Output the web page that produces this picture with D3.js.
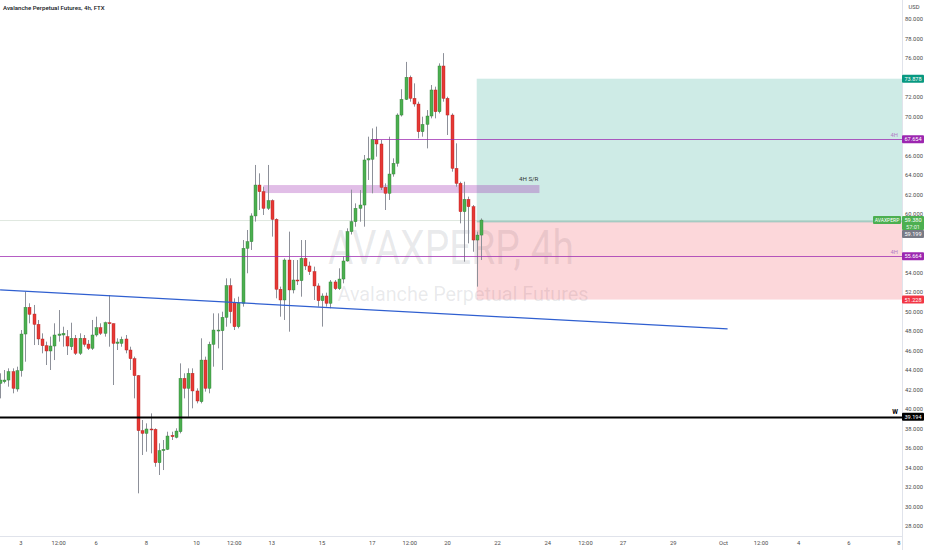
<!DOCTYPE html>
<html><head><meta charset="utf-8">
<script src="https://cdn.jsdelivr.net/npm/d3@7"></script>
<style>html,body{margin:0;padding:0;background:#fff;} svg{display:block}</style>
</head><body><svg id="c" width="932" height="550"></svg>
<script>
// ---------------- DATA ----------------
const firstCandle = Date.UTC(2021, 8, 2, 4); // 4h candles from here
const candleHours = 4;
const opens  = [42.63,42.80,42.97,43.83,42.05,43.93,47.69,50.43,49.74,48.68,47.18,46.49,45.95,46.46,47.55,47.59,47.42,46.39,47.25,45.71,47.25,46.66,46.22,47.59,48.34,47.76,48.85,48.75,46.73,46.73,47.18,46.05,45.16,43.42,37.78,37.50,37.95,37.91,34.49,35.73,35.86,37.30,37.09,37.67,43.14,42.12,43.66,41.85,40.75,45.02,42.12,46.63,48.03,48.03,49.40,52.65,50.90,48.44,50.84,56.48,57.16,59.80,62.97,62.29,60.58,61.37,59.45,52.28,51.18,55.28,52.21,53.23,53.16,55.45,54.67,54.09,52.62,51.11,51.59,50.84,53.03,52.34,53.33,55.18,58.19,59.21,60.58,60.92,65.54,65.61,67.66,67.18,62.73,62.12,64.10,65.20,70.15,71.76,74.02,71.86,71.28,68.44,69.19,70.05,72.72,70.49,75.18,71.86,70.15,64.68,63.14,60.24,61.50,60.75,57.33,57.84];
const highs  = [43.66,44.00,44.17,44.17,44.34,48.10,52.03,50.84,50.67,49.13,47.76,46.91,47.42,48.79,50.15,48.44,48.10,48.85,47.59,47.76,47.59,47.08,49.13,49.47,48.79,48.96,51.69,48.79,47.25,47.42,47.59,46.39,45.37,43.49,38.87,38.53,39.55,38.02,36.48,36.82,37.67,37.67,38.02,44.68,43.66,44.17,44.17,42.12,47.25,45.37,46.90,49.81,49.81,49.98,53.40,53.40,51.35,51.52,57.33,58.36,60.07,65.03,64.17,62.80,65.03,61.50,59.56,52.55,55.45,58.19,55.28,55.28,57.33,57.33,55.11,54.60,52.89,51.86,51.93,53.23,53.23,54.43,55.63,58.53,62.50,61.09,62.46,66.05,67.93,68.78,68.96,67.59,63.14,67.93,65.71,70.32,72.80,75.60,74.20,73.40,71.52,69.98,70.66,73.23,73.06,75.45,76.50,72.03,70.32,67.25,63.31,63.31,61.78,60.92,58.19,59.55];
const lows   = [41.09,42.63,42.29,41.61,41.78,43.32,44.85,48.79,46.56,46.56,45.71,44.51,44.00,45.02,46.91,46.39,45.54,46.05,45.54,45.54,46.39,46.05,46.05,47.42,47.59,47.42,46.39,42.46,46.05,46.39,45.71,44.00,41.09,31.35,35.28,35.62,35.45,34.08,33.23,33.74,35.79,36.82,36.99,37.50,41.09,39.21,40.07,40.58,40.58,41.78,41.61,44.34,46.22,44.00,48.44,48.79,48.10,48.27,50.50,53.92,56.31,59.22,60.41,59.90,60.41,57.68,51.35,49.47,49.13,47.93,51.86,52.72,51.52,54.26,53.75,51.18,50.50,48.45,50.50,50.33,52.21,52.21,52.89,55.11,57.90,58.70,59.21,58.70,63.49,62.12,65.88,62.46,60.41,61.44,63.83,64.86,70.00,71.69,71.52,71.01,67.76,67.93,66.73,69.81,69.81,70.32,71.52,68.10,64.34,62.80,59.04,55.11,56.99,56.13,52.55,55.28];
const closes = [42.97,42.97,43.83,42.12,43.93,47.69,50.43,49.71,48.68,47.18,46.49,45.95,46.46,47.59,47.69,47.76,46.46,47.25,45.71,47.25,46.63,46.22,47.59,48.34,47.76,48.85,48.79,46.73,46.87,47.14,46.05,45.16,43.42,37.78,37.50,37.95,37.88,34.49,35.73,35.86,37.23,37.16,37.74,43.14,42.12,43.66,41.85,40.82,45.02,42.12,46.63,48.10,48.10,49.40,52.65,49.98,48.44,50.84,56.48,57.16,59.80,62.97,62.29,60.58,61.37,59.45,52.28,51.18,55.28,52.21,53.23,53.16,55.45,54.67,54.09,52.62,51.11,51.59,50.84,53.03,52.34,53.33,55.18,58.19,59.21,60.58,60.92,65.54,65.67,67.66,67.18,62.73,62.12,64.10,65.20,70.15,71.76,74.02,71.86,71.28,68.44,69.19,70.05,72.72,70.49,75.18,71.86,70.15,64.68,63.14,60.24,61.50,60.75,57.33,57.84,59.38];

const priceTicks = [28,30,32,34,36,38,40,42,44,46,48,50,52,54,56,58,60,62,64,66,68,70,72,74,76,78,80];
const timeTicks = [
  [Date.UTC(2021,8,3),"3"],[Date.UTC(2021,8,4,12),"12:00"],[Date.UTC(2021,8,6),"6"],[Date.UTC(2021,8,8),"8"],
  [Date.UTC(2021,8,10),"10"],[Date.UTC(2021,8,11,12),"12:00"],[Date.UTC(2021,8,13),"13"],[Date.UTC(2021,8,15),"15"],
  [Date.UTC(2021,8,17),"17"],[Date.UTC(2021,8,18,12),"12:00"],[Date.UTC(2021,8,20),"20"],[Date.UTC(2021,8,22),"22"],
  [Date.UTC(2021,8,24),"24"],[Date.UTC(2021,8,25,12),"12:00"],[Date.UTC(2021,8,27),"27"],[Date.UTC(2021,8,29),"29"],
  [Date.UTC(2021,9,1),"Oct"],[Date.UTC(2021,9,2,12),"12:00"],[Date.UTC(2021,9,4),"4"],[Date.UTC(2021,9,6),"6"],[Date.UTC(2021,9,8),"8"]
];

// horizontal levels
const levelPrices = [67.654, 55.664, 39.194];
const levelTags   = ["4H", "4H", "W"];
const levelStarts = [Date.UTC(2021,8,17), Date.UTC(2021,8,1), Date.UTC(2021,8,1)];

// 4H S/R zone
const zonePrices = [62.15, 62.97];
const zoneTimes  = [Date.UTC(2021,8,12,16), Date.UTC(2021,8,23,16)];
const zoneText = "4H S/R";

// trend line
const trendTimes  = [Date.UTC(2021,8,2,4), Date.UTC(2021,9,1,4)];
const trendPrices = [52.21, 48.21];

// long position
const posStart = Date.UTC(2021,8,21,4);
const posEnd   = Date.UTC(2021,9,9);
const posEntry = 59.199, posTarget = 73.878, posStop = 51.228;
const lastPrice = 59.380, countdown = "57:01";
const symbol = "AVAXPERP";
const title = "Avalanche Perpetual Futures, 4h, FTX";
const wm1 = "AVAXPERP, 4h", wm2 = "Avalanche Perpetual Futures";

// ---------------- DRAW ----------------
const svg = d3.select('#c');
const W = 932, H = 550, plotR = 902, plotB = 536;
const FONT = "Roboto, 'Noto Sans', sans-serif";
const x = d3.scaleUtc().domain([new Date(Date.UTC(2021,8,3)), new Date(Date.UTC(2021,9,8))]).range([21, 899]);
const y = d3.scaleLinear().domain([28, 80]).range([526, 19]);

svg.append('rect').attr('width', W).attr('height', H).attr('fill', '#fff');
svg.append('defs').append('clipPath').attr('id','plot').append('rect')
  .attr('x',0).attr('y',0).attr('width',plotR).attr('height',plotB);
const g = svg.append('g').attr('clip-path','url(#plot)');

// watermark
const cx = plotR/2;
g.append('text').attr('x', cx).attr('y', 264).attr('text-anchor','middle')
  .attr('font-family', FONT).attr('font-size', 48).attr('fill','rgba(120,123,134,0.16)')
  .attr('textLength', 246).attr('lengthAdjust','spacingAndGlyphs').text(wm1);
g.append('text').attr('x', cx+12).attr('y', 301).attr('text-anchor','middle')
  .attr('font-family', FONT).attr('font-size', 20).attr('fill','rgba(120,123,134,0.16)')
  .attr('textLength', 251).attr('lengthAdjust','spacingAndGlyphs').text(wm2);

// current price faint line
g.append('line').attr('x1',0).attr('x2',plotR).attr('y1',y(lastPrice)+0.5).attr('y2',y(lastPrice)+0.5)
  .attr('stroke','#dfe8df').attr('stroke-width',1);

// position boxes
const px0 = x(new Date(posStart)), px1 = x(new Date(posEnd));
g.append('rect').attr('x',px0).attr('width',px1-px0).attr('y',y(posTarget)).attr('height',y(posEntry)-y(posTarget))
  .attr('fill','rgba(8,153,129,0.2)');
g.append('rect').attr('x',px0).attr('width',px1-px0).attr('y',y(posEntry)).attr('height',y(posStop)-y(posEntry))
  .attr('fill','rgba(242,54,69,0.2)');
g.append('line').attr('x1',px0).attr('x2',px1).attr('y1',y(posEntry)).attr('y2',y(posEntry))
  .attr('stroke','#8fbfb5').attr('stroke-width',1);

// S/R zone
const zx0 = x(new Date(zoneTimes[0])), zx1 = x(new Date(zoneTimes[1]));
g.append('rect').attr('x',zx0).attr('width',zx1-zx0).attr('y',y(zonePrices[1])).attr('height',y(zonePrices[0])-y(zonePrices[1]))
  .attr('fill','rgba(156,39,176,0.3)');
g.append('text').attr('x',zx1-1).attr('y',y(zonePrices[1])-4).attr('text-anchor','end')
  .attr('font-family',FONT).attr('font-size',6.2).attr('fill','#333').text(zoneText);

// candles
const idx = d3.range(opens.length);
const tOf = i => new Date(firstCandle + i*candleHours*3600e3);
const cg = g.append('g');
cg.selectAll('line.wick').data(idx).join('line').attr('class','wick')
  .attr('x1', i => Math.round(x(tOf(i)))+0.5).attr('x2', i => Math.round(x(tOf(i)))+0.5)
  .attr('y1', i => y(highs[i])).attr('y2', i => y(lows[i]))
  .attr('stroke','#8d9099').attr('stroke-width',1);
cg.selectAll('rect.body').data(idx).join('rect').attr('class','body')
  .attr('x', i => Math.round(x(tOf(i)))-1)
  .attr('width', 3)
  .attr('y', i => y(Math.max(opens[i],closes[i])))
  .attr('height', i => Math.max(1, Math.abs(y(opens[i])-y(closes[i]))))
  .attr('fill', i => closes[i] >= opens[i] ? '#4caf50' : '#e53935')
  .attr('stroke', i => closes[i] >= opens[i] ? '#2e7d32' : '#b71c1c')
  .attr('stroke-width', 0.4);

// levels
levelPrices.forEach((p, k) => {
  const isW = levelTags[k] === 'W';
  const yy = Math.round(y(p)) + 0.5;
  g.append('line').attr('x1', x(new Date(levelStarts[k]))).attr('x2', plotR).attr('y1', yy).attr('y2', yy)
    .attr('stroke', isW ? '#000' : 'rgba(156,39,176,0.75)').attr('stroke-width', isW ? 2 : 1);
  g.append('text').attr('x', 898).attr('y', yy - (isW ? 4 : 3)).attr('text-anchor','end')
    .attr('font-family', FONT).attr('font-size', isW ? 6.5 : 5.8).attr('font-weight', isW ? 700 : 400)
    .attr('fill', isW ? '#000' : '#b07cc6').text(levelTags[k]);
});

// trend line
g.append('line').attr('x1', x(new Date(trendTimes[0]))).attr('y1', y(trendPrices[0]))
  .attr('x2', x(new Date(trendTimes[1]))).attr('y2', y(trendPrices[1]))
  .attr('stroke','#2f5fd0').attr('stroke-width',1.3);

// axes separators
svg.append('line').attr('x1',plotR+0.5).attr('x2',plotR+0.5).attr('y1',0).attr('y2',H).attr('stroke','#e0e3eb');
svg.append('line').attr('x1',0).attr('x2',plotR).attr('y1',plotB+0.5).attr('y2',plotB+0.5).attr('stroke','#e0e3eb');

// axis tag positions (to hide price labels hidden behind tags)
const ly = y(lastPrice);
const tagYs = [y(posTarget), y(levelPrices[0]), ly, ly+6, ly+14, y(levelPrices[1]), y(posStop), y(levelPrices[2])];

// price axis labels
const fmt = d3.format('.3f');
svg.append('g').selectAll('text').data(priceTicks.filter(d => tagYs.every(t => Math.abs(y(d)-t) > 4.5))).join('text')
  .attr('x', 914).attr('y', d => y(d)+2).attr('text-anchor','middle')
  .attr('font-family',FONT).attr('font-size',5.8).attr('fill','#4a4a4a').text(d => fmt(d));
svg.append('text').attr('x',914).attr('y',9).attr('text-anchor','middle')
  .attr('font-family',FONT).attr('font-size',5.8).attr('fill','#4a4a4a').text('USD');

// time axis labels
svg.append('g').selectAll('text').data(timeTicks).join('text')
  .attr('x', d => x(new Date(d[0]))).attr('y', 545).attr('text-anchor','middle')
  .attr('font-family',FONT).attr('font-size',5.8).attr('fill','#4a4a4a').text(d => d[1]);

// title
svg.append('text').attr('x',3).attr('y',10).attr('font-family',FONT).attr('font-size',6.1).attr('font-weight',500)
  .attr('fill','#131722').text(title);

// axis price tags
function tag(yc, txt, color, h) {
  h = h || 8;
  svg.append('rect').attr('x',902).attr('y',yc-h/2).attr('width',22).attr('height',h).attr('fill',color).attr('rx',1);
  svg.append('text').attr('x',913).attr('y',yc+2).attr('text-anchor','middle')
    .attr('font-family',FONT).attr('font-size',5.6).attr('fill','#fff').text(txt);
}
tag(y(posTarget), fmt(posTarget), '#089981');
tag(y(levelPrices[0]), fmt(levelPrices[0]), '#9c27b0');
// last price + countdown
svg.append('rect').attr('x',902).attr('y',ly-4).attr('width',22).attr('height',14).attr('fill','#4caf50').attr('rx',1);
svg.append('text').attr('x',913).attr('y',ly+2).attr('text-anchor','middle').attr('font-family',FONT).attr('font-size',5.6).attr('fill','#fff').text(fmt(lastPrice));
svg.append('text').attr('x',913).attr('y',ly+8.5).attr('text-anchor','middle').attr('font-family',FONT).attr('font-size',5.6).attr('fill','#e8f5e9').text(countdown);
tag(ly+14, fmt(posEntry), '#787b86');
tag(y(levelPrices[1]), fmt(levelPrices[1]), '#9c27b0');
tag(y(posStop), fmt(posStop), '#f23645');
tag(y(levelPrices[2]), fmt(levelPrices[2]), '#000');
// symbol tag left of axis
svg.append('rect').attr('x',873).attr('y',ly-4).attr('width',28).attr('height',8).attr('fill','#4caf50').attr('rx',1);
svg.append('text').attr('x',887).attr('y',ly+2).attr('text-anchor','middle').attr('font-family',FONT).attr('font-size',5).attr('fill','#fff').text(symbol);
</script></body></html>
